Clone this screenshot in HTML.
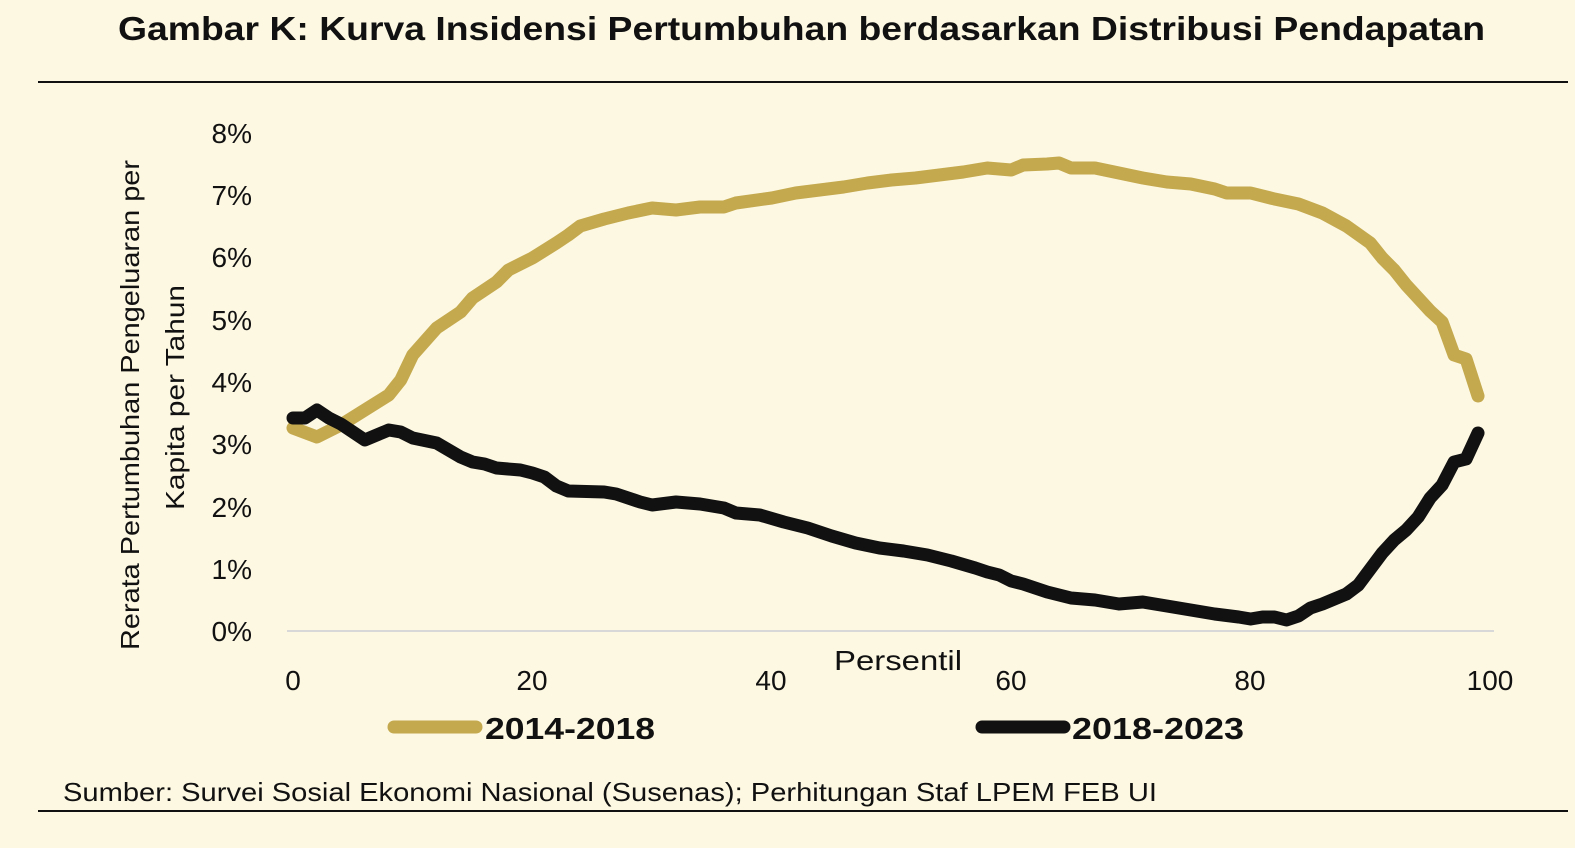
<!DOCTYPE html>
<html><head><meta charset="utf-8"><style>
html,body{margin:0;padding:0;background:#fdf8e2;}
body{width:1575px;height:843px;overflow:hidden;font-family:"Liberation Sans",sans-serif;}
</style></head><body>
<svg width="1575" height="843" viewBox="0 0 1575 843" xmlns="http://www.w3.org/2000/svg" font-family="Liberation Sans, sans-serif">
<rect width="1575" height="843" fill="#fdf8e2"/>
<text x="118" y="40" font-size="33" font-weight="bold" fill="#111" textLength="1367" lengthAdjust="spacingAndGlyphs">Gambar K: Kurva Insidensi Pertumbuhan berdasarkan Distribusi Pendapatan</text>
<line x1="38" y1="82" x2="1568" y2="82" stroke="#111" stroke-width="2"/>
<line x1="38" y1="811" x2="1568" y2="811" stroke="#111" stroke-width="2"/>
<g font-size="28" fill="#111" text-anchor="end">
<text x="252" y="143">8%</text><text x="252" y="205">7%</text><text x="252" y="267">6%</text>
<text x="252" y="330">5%</text><text x="252" y="392">4%</text><text x="252" y="454">3%</text>
<text x="252" y="517">2%</text><text x="252" y="579">1%</text><text x="252" y="641">0%</text>
</g>
<line x1="287" y1="631" x2="1494" y2="631" stroke="#d8d8d8" stroke-width="2"/>
<g font-size="28" fill="#111" text-anchor="middle">
<text x="293" y="690">0</text><text x="532" y="690">20</text><text x="771" y="690">40</text>
<text x="1011" y="690">60</text><text x="1250" y="690">80</text><text x="1490" y="690">100</text>
<text x="898" y="670" textLength="128" lengthAdjust="spacingAndGlyphs">Persentil</text>
</g>
<g font-size="26" fill="#111">
<text transform="translate(139,650) rotate(-90)" textLength="490" lengthAdjust="spacingAndGlyphs">Rerata Pertumbuhan Pengeluaran per</text>
<text transform="translate(184,510) rotate(-90)" textLength="225" lengthAdjust="spacingAndGlyphs">Kapita per Tahun</text>
</g>
<g transform="translate(293,0) scale(11.97,1)" fill="none" stroke-linejoin="round" stroke-linecap="round">
<polyline vector-effect="non-scaling-stroke" stroke="#c4a94e" stroke-width="13" points="0,428 2,437 4,425 6,410 8,395 9,380 10,355 12,328 14,312 15,298 17,282 18,270 20,258 22,243 23,235 24,226 26,219 28,213 30,208 32,210 34,207 36,207 37,203 40,198 42,193 44,190 46,187 48,183 50,180 52,178 54,175 56,172 58,168 60,170 61,165 63,164 64,163 65,168 67,168 69,173 71,178 73,182 75,184 77,189 78,193 80,193 82,199 84,204 86,213 88,226 90,243 91,258 92,270 93,285 94,298 95,311 96,322 97,355 98,359 99,396"/>
<polyline vector-effect="non-scaling-stroke" stroke="#111" stroke-width="13" points="0,418 1,418 2,410 3,418 4,424 6,440 8,430 9,432 10,438 12,443 14,457 15,462 16,464 17,468 19,470 20,473 21,477 22,486 23,491 26,492 27,494 29,502 30,505 32,502 34,504 36,508 37,513 39,515 41,522 43,528 45,536 47,543 49,548 51,551 53,555 55,561 57,568 58,572 59,575 60,581 61,584 63,592 65,598 67,600 69,604 71,602 73,606 75,610 77,614 79,617 80,619 81,617 82,617 83,620 84,616 85,608 86,604 88,594 89,585 90,569 91,553 92,540 93,530 94,517 95,498 96,485 97,462 98,459 99,433"/>
</g>
<line x1="394" y1="727" x2="476" y2="727" stroke="#c4a94e" stroke-width="13" stroke-linecap="round"/>
<text x="485" y="739" font-size="31" font-weight="bold" fill="#111" textLength="170" lengthAdjust="spacingAndGlyphs">2014-2018</text>
<line x1="982" y1="727" x2="1064" y2="727" stroke="#111" stroke-width="13" stroke-linecap="round"/>
<text x="1072" y="739" font-size="31" font-weight="bold" fill="#111" textLength="172" lengthAdjust="spacingAndGlyphs">2018-2023</text>
<text x="63" y="801" font-size="26" fill="#111" textLength="1094" lengthAdjust="spacingAndGlyphs">Sumber: Survei Sosial Ekonomi Nasional (Susenas); Perhitungan Staf LPEM FEB UI</text>
</svg>
</body></html>
